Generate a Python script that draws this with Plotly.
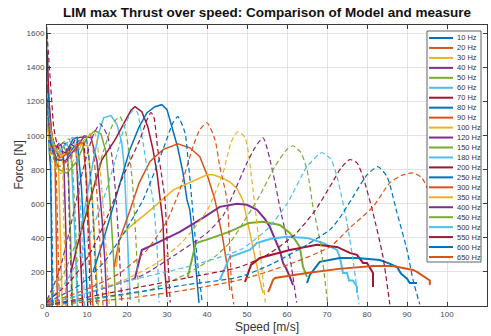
import plotly.graph_objects as go

# ---------------- data ----------------
freqs = [10, 20, 30, 40, 50, 60, 70, 80, 90, 100, 120, 150, 180, 200,
         250, 300, 350, 400, 450, 500, 550, 600, 650]
legend_labels = [f"{f} Hz" for f in freqs]
palette = ['#0072BD', '#D95319', '#EDB120', '#7E2F8E', '#77AC30', '#4DBEEE', '#A2142F']
x_ticks = list(range(0, 111, 10))
y_ticks = list(range(0, 1601, 200))

# measured (solid)
meas_10_v = [0, 0.3, 0.6, 0.9, 1.1, 1.3]
meas_10_F = [1200, 1000, 900, 820, 400, 0]
meas_20_v = [0, 0.4, 0.9, 1.5, 2.0, 2.3, 2.6]
meas_20_F = [1250, 1050, 930, 900, 860, 450, 0]
meas_30_v = [0, 0.5, 1.2, 2.0, 2.8, 3.3, 3.8]
meas_30_F = [1150, 1000, 920, 930, 900, 500, 0]
meas_40_v = [0, 0.5, 1.3, 2.3, 3.5, 4.2, 4.7, 5.1]
meas_40_F = [1300, 1080, 940, 930, 950, 850, 450, 0]
meas_50_v = [0, 0.6, 1.5, 2.8, 4.2, 5.2, 5.9, 6.4]
meas_50_F = [1200, 1050, 920, 900, 940, 880, 400, 0]
meas_60_v = [0, 0.3, 0.8, 1.8, 3.2, 4.8, 6.0, 6.9, 7.6]
meas_60_F = [1640, 1300, 1050, 920, 900, 960, 900, 450, 0]
meas_70_v = [0, 0.5, 1.2, 2.5, 4.2, 6.0, 7.3, 8.2, 8.9]
meas_70_F = [1500, 1200, 1000, 900, 880, 950, 930, 450, 0]
meas_80_v = [0, 0.5, 1.3, 2.8, 4.8, 6.5, 7.5, 8.6, 9.5, 10.2]
meas_80_F = [1300, 1150, 980, 880, 900, 980, 990, 700, 300, 0]
meas_90_v = [0, 0.6, 1.5, 3.2, 5.5, 7.5, 9.0, 10.0, 10.8, 11.5]
meas_90_F = [1200, 1100, 960, 870, 900, 950, 960, 700, 350, 0]
meas_100_v = [0, 0.7, 1.7, 3.5, 6, 8.5, 10.2, 11.3, 12.1, 12.8]
meas_100_F = [1150, 1050, 940, 880, 920, 950, 940, 650, 300, 0]
meas_120_v = [0.3, 1, 2.5, 4.5, 7, 9.2, 11, 12.5, 13.8, 14.5, 15]
meas_120_F = [1100, 950, 860, 850, 920, 994, 990, 850, 500, 250, 0]
meas_150_v = [1.5, 3, 5, 7.5, 10, 12, 13.5, 14.8, 15.8, 16.6, 17.2]
meas_150_F = [900, 800, 780, 850, 990, 1030, 1010, 900, 600, 300, 0]
meas_180_v = [8.5, 10, 11.7, 13, 14.2, 16, 17.5, 18.7, 19.3, 20, 20.4, 20.8]
meas_180_F = [450, 650, 870, 1020, 1106, 1118, 1065, 959, 820, 465, 270, 35]
meas_200_v = [6, 7.5, 10.5, 13.7, 17, 19.5, 21, 22, 23.7, 25.2, 26.5, 27.5, 28.2, 29, 29.5, 30]
meas_200_F = [200, 347, 600, 859, 975, 1080, 1150, 1170, 1141, 1053, 918, 782, 650, 488, 194, 53]
meas_250_v = [11.5, 14, 17, 20.7, 23, 25, 27, 28.7, 30, 31.2, 32.7, 34, 35, 35.7, 37, 37.7, 38]
meas_250_F = [200, 380, 620, 918, 1050, 1135, 1170, 1182, 1153, 1053, 929, 782, 623, 565, 288, 94, 18]
meas_300_v = [16.8, 18, 20.7, 23, 25.7, 29, 32.7, 35.7, 38.2, 40.2, 42, 43, 44, 45.2, 45.7]
meas_300_F = [230, 380, 560, 720, 847, 918, 953, 929, 876, 759, 623, 500, 388, 212, 94]
meas_350_v = [17.3, 18.2, 20.7, 25.7, 31.5, 36, 40, 41.5, 43.5, 45.7, 47.5, 49, 50, 51.5, 52.5, 53.2, 54]
meas_350_F = [230, 400, 465, 560, 680, 730, 770, 770, 755, 729, 690, 620, 506, 347, 229, 153, 76]
meas_400_v = [22, 23.7, 26.5, 33.2, 39, 43.2, 47.5, 50, 52.5, 54.5, 55.7, 56.5, 57.5, 58.3, 59, 59.8, 60.7, 61.5]
meas_400_F = [165, 329, 359, 435, 518, 582, 600, 594, 565, 510, 465, 420, 370, 320, 253, 220, 171, 123]
meas_450_v = [35.2, 37.2, 39.8, 45.5, 50.5, 54, 58.2, 60.7, 62, 63.2, 63.6, 64, 64.5, 65]
meas_450_F = [171, 370, 388, 435, 488, 494, 476, 429, 390, 347, 290, 229, 200, 171]
meas_500_v = [43.2, 45.7, 50.7, 52.5, 56, 60, 65, 69, 72.5, 73.2, 74, 75, 75.5, 76.5, 77.5, 77.5]
meas_500_F = [153, 288, 329, 370, 395, 406, 400, 370, 329, 288, 194, 194, 150, 150, 112, 76]
meas_550_v = [49.5, 51, 53.2, 60.7, 67.5, 72.5, 75.7, 77.5, 79, 80, 81.5, 81.5]
meas_550_F = [141, 241, 282, 329, 359, 347, 312, 300, 253, 253, 194, 112]
meas_600_v = [65, 65.7, 68.2, 73.2, 77.5, 83.2, 85.5, 87.5, 88.5, 90, 90.7, 92.5]
meas_600_F = [135, 182, 259, 282, 282, 270, 250, 229, 190, 160, 135, 135]
meas_650_v = [55.3, 56.5, 57, 65, 73, 81.5, 86.5, 89, 91.5, 92.5, 93.7, 95.7, 95.7]
meas_650_F = [82, 153, 165, 194, 218, 235, 235, 225, 212, 200, 182, 150, 123]

# model (dashed)
model_10_v = [0, 0.4, 0.8, 1.2, 1.56]
model_10_F = [1350, 1150, 900, 500, 0]
model_20_v = [0, 0.5, 1.2, 2.0, 2.6, 3.1]
model_20_F = [1250, 1100, 950, 900, 500, 0]
model_30_v = [0, 0.6, 1.5, 2.6, 3.6, 4.2, 4.7]
model_30_F = [1200, 1050, 950, 950, 900, 500, 0]
model_40_v = [0, 0.8, 2, 3.3, 4.6, 5.6, 6.2]
model_40_F = [1150, 1000, 930, 960, 950, 500, 0]
model_50_v = [0, 1, 2.5, 4, 5.5, 6.9, 7.8]
model_50_F = [1100, 960, 920, 960, 980, 600, 0]
model_60_v = [0, 1, 2.5, 4.5, 6.5, 8.3, 9.4]
model_60_F = [1250, 1000, 900, 940, 990, 600, 0]
model_70_v = [0, 0.6, 1.2, 1.7, 3, 5, 7.2, 8.8, 10, 10.9]
model_70_F = [1600, 1400, 1200, 1047, 920, 900, 980, 990, 600, 0]
model_80_v = [0, 1, 2.5, 5, 7.5, 9.5, 11.2, 12.5]
model_80_F = [1200, 950, 850, 880, 960, 1000, 650, 0]
model_90_v = [0, 1, 3, 5.5, 8.5, 10.7, 12.6, 14]
model_90_F = [1150, 900, 820, 860, 970, 1010, 620, 0]
model_100_v = [0, 1.2, 3.5, 6.5, 9.5, 11.8, 14, 15.6]
model_100_F = [1100, 850, 780, 850, 980, 1020, 600, 0]
model_120_v = [0, 3, 6, 9, 11.5, 13.3, 15, 16.2, 17.2, 18, 18.7]
model_120_F = [35, 200, 480, 800, 1000, 1070, 1006, 888, 650, 350, 20]
model_150_v = [0, 4, 8, 11, 14, 16.5, 18.2, 19.5, 20.7, 21.5, 22.2, 23]
model_150_F = [30, 180, 420, 650, 900, 1070, 1112, 1040, 876, 682, 400, 20]
model_180_v = [0, 5, 10, 14, 17, 19.5, 21.5, 22.5, 24, 25.2, 26.5, 27.5, 28]
model_180_F = [25, 150, 380, 620, 850, 1060, 1150, 1140, 959, 782, 623, 350, 20]
model_200_v = [0, 6, 11, 15, 19, 23.2, 25, 26, 26.7, 27.7, 28.7, 29.5, 30, 30.8]
model_200_F = [25, 150, 320, 520, 760, 976, 1094, 1135, 1110, 918, 759, 623, 388, 20]
model_250_v = [0, 8, 14, 19, 24, 29, 31.5, 32.7, 34.5, 35.2, 36.2, 37.5, 38.8]
model_250_F = [20, 120, 250, 420, 623, 918, 1076, 1112, 1018, 876, 623, 288, 20]
model_300_v = [0, 10, 18, 25, 30, 33.2, 36.5, 38.2, 40, 42, 43.2, 45, 46.2, 46.7]
model_300_F = [15, 100, 190, 330, 500, 682, 935, 1035, 1076, 976, 818, 623, 94, 10]
model_350_v = [0, 12, 20, 27.5, 34, 40, 44, 46, 47.7, 49.5, 51.5, 53.2, 54.6]
model_350_F = [12, 90, 160, 253, 380, 560, 782, 960, 1024, 990, 682, 329, 20]
model_400_v = [0, 15, 24, 32, 40, 44, 47, 50, 52, 54, 56.5, 58.2, 60, 61.5, 62.4]
model_400_F = [10, 110, 182, 300, 429, 530, 680, 841, 930, 988, 782, 582, 388, 171, 20]
model_450_v = [0, 15, 25.7, 35, 42, 46, 49, 53, 57, 60, 61.5, 63.5, 65, 66.5, 68.2, 70.2]
model_450_F = [10, 50, 94, 190, 290, 380, 488, 640, 820, 920, 941, 900, 800, 582, 388, 10]
model_500_v = [0, 20.7, 35, 48.2, 55, 60, 65, 68.7, 71, 72.5, 75, 76.5, 78]
model_500_F = [8, 150, 230, 329, 450, 600, 818, 900, 860, 759, 488, 270, 10]
model_550_v = [0, 20.7, 35, 48.2, 55, 62, 67, 70.7, 73.5, 75.7, 77.5, 79, 81.5, 84, 85.7]
model_550_F = [5, 100, 165, 229, 300, 420, 560, 700, 810, 860, 840, 759, 547, 288, 10]
model_600_v = [0, 20.7, 35, 48.2, 56.5, 65, 70.7, 73.2, 76.5, 80, 82.7, 85, 87.5, 90, 91.5, 93.2]
model_600_F = [5, 76, 125, 171, 250, 360, 447, 518, 641, 770, 818, 760, 547, 329, 153, 10]
model_650_v = [0, 20.7, 35, 48.2, 60, 70.7, 76, 81.5, 85.7, 89, 91.5, 93.7, 95.3]
model_650_F = [5, 47, 95, 153, 240, 347, 465, 582, 723, 770, 782, 753, 680]

g = globals()
measured = {f: (g[f"meas_{f}_v"], g[f"meas_{f}_F"]) for f in freqs}
model = {f: (g[f"model_{f}_v"], g[f"model_{f}_F"]) for f in freqs}

# ---------------- figure ----------------
W, H = 491, 336
L, R, T, B = 47, 4, 25, 30
plot_w = W - L - R
plot_h = H - T - B

fig = go.Figure()
for i, f in enumerate(freqs):
    c = palette[i % 7]
    v, F = measured[f]
    fig.add_trace(go.Scatter(x=v, y=F, mode='lines', name=f"{f} Hz",
                             line=dict(color=c, width=2.0 if f >= 400 else 1.5),
                             showlegend=False, hoverinfo='skip'))
for i, f in enumerate(freqs):
    c = palette[i % 7]
    v, F = model[f]
    fig.add_trace(go.Scatter(x=v, y=F, mode='lines', name=f"{f} Hz model",
                             line=dict(color=c, width=1.2, dash='5px,3px',
                                       shape='spline', smoothing=0.6),
                             showlegend=False, hoverinfo='skip'))

axis_common = dict(showgrid=True, gridcolor='#e3e3e3', gridwidth=1,
                   showline=True, linecolor='#3a3a3a', linewidth=1, mirror='ticks',
                   ticks='inside', ticklen=4, tickcolor='#3a3a3a', zeroline=False,
                   tickfont=dict(family='Liberation Sans, Arial', size=8, color='#4a4a4a'))

fig.update_layout(
    width=W, height=H,
    margin=dict(l=L, r=R, t=T, b=B, pad=0),
    paper_bgcolor='white', plot_bgcolor='white',
    xaxis=dict(range=[0, 110], tickvals=x_ticks, **axis_common),
    yaxis=dict(range=[0, 1650], tickvals=y_ticks, **axis_common),
    title=dict(text="LIM max Thrust over speed: Comparison of Model and measure",
               x=0.5, xref='paper', y=1 - 12 / H, yref='container', yanchor='middle',
               font=dict(family='Liberation Sans, Arial', size=13.5, color='#111111', weight='bold')),
    showlegend=False,
)

def px_x(px):
    return (px - L) / plot_w

def px_y(py):
    return (H - B - py) / plot_h

annotations = [
    dict(text="Speed [m/s]", xref='paper', yref='paper', x=0.5, y=px_y(327),
         xanchor='center', yanchor='middle', showarrow=False,
         font=dict(family='Liberation Sans, Arial', size=12, color='#333333')),
    dict(text="Force [N]", xref='paper', yref='paper', x=px_x(18), y=0.5,
         xanchor='center', yanchor='middle', showarrow=False, textangle=-90,
         font=dict(family='Liberation Sans, Arial', size=12, color='#333333')),
]

# manual legend
leg_x0, leg_x1, leg_y0, leg_y1 = 427, 481, 31, 262
shapes = [dict(type='rect', xref='paper', yref='paper', layer='above',
               x0=px_x(leg_x0), x1=px_x(leg_x1), y0=px_y(leg_y1), y1=px_y(leg_y0),
               fillcolor='white', line=dict(color='#3a3a3a', width=0.8))]
row0, row_h = 38, (257 - 38) / (len(freqs) - 1)
for i, lab in enumerate(legend_labels):
    yc = row0 + i * row_h
    shapes.append(dict(type='line', xref='paper', yref='paper', layer='above',
                       x0=px_x(429), x1=px_x(453), y0=px_y(yc), y1=px_y(yc),
                       line=dict(color=palette[i % 7], width=2)))
    annotations.append(dict(text=lab, xref='paper', yref='paper', x=px_x(454.5), y=px_y(yc),
                            xanchor='left', yanchor='middle', showarrow=False,
                            font=dict(family='Liberation Sans, Arial', size=7.5, color='#333333')))

fig.update_layout(shapes=shapes, annotations=annotations)
fig.write_html("out.html", config={'displayModeBar': False},
               post_script="document.body.style.margin='0';document.body.style.overflow='hidden';")
